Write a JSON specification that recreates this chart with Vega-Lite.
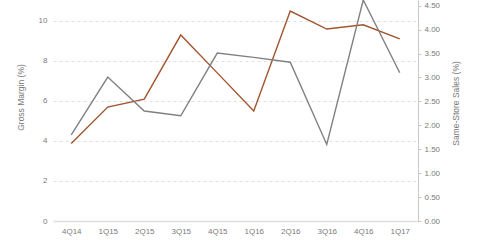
{
  "$schema": "https://vega.github.io/schema/vega-lite/v6.json",
  "width": 365,
  "height": 221,
  "autosize": {"type": "none"},
  "padding": {"left": 53, "top": 0, "right": 62, "bottom": 30},
  "background": "white",
  "config": {
    "view": {"stroke": null},
    "font": "Liberation Sans",
    "axis": {"labelFont": "Liberation Sans", "titleFont": "Liberation Sans", "labelColor": "#7a7a7a", "titleColor": "#7a7a7a", "labelFontSize": 8, "titleFontSize": 8.5, "titleFontWeight": "normal"}
  },
  "data": {
    "values": [
      {"quarter": "4Q14", "gm": 3.87, "sss": 1.80},
      {"quarter": "1Q15", "gm": 5.69, "sss": 3.01},
      {"quarter": "2Q15", "gm": 6.09, "sss": 2.30},
      {"quarter": "3Q15", "gm": 9.29, "sss": 2.20},
      {"quarter": "4Q15", "gm": 7.40, "sss": 3.51},
      {"quarter": "1Q16", "gm": 5.50, "sss": 3.42},
      {"quarter": "2Q16", "gm": 10.49, "sss": 3.32},
      {"quarter": "3Q16", "gm": 9.59, "sss": 1.60},
      {"quarter": "4Q16", "gm": 9.80, "sss": 4.62},
      {"quarter": "1Q17", "gm": 9.10, "sss": 3.10}
    ]
  },
  "encoding": {
    "x": {
      "field": "quarter", "type": "ordinal", "sort": null,
      "scale": {"type": "point", "padding": 0.5},
      "axis": {"title": null, "labelAngle": 0, "domainColor": "#e0e0e0", "domainWidth": 1.5, "ticks": false, "labelPadding": 6}
    }
  },
  "layer": [
    {
      "mark": {"type": "line", "color": "#A0552F", "strokeWidth": 1.4, "clip": false},
      "encoding": {
        "y": {
          "field": "gm", "type": "quantitative",
          "scale": {"domain": [0, 11.04], "nice": false, "zero": true},
          "axis": {
            "orient": "left", "values": [0, 2, 4, 6, 8, 10], "title": "Gross Margin (%)",
            "grid": true, "gridColor": "#e0e0e0", "gridDash": [3, 3], "gridWidth": 1,
            "domain": false, "ticks": false, "labelPadding": 6,
            "titleX": -28, "titleY": 97, "titleAnchor": "middle"
          }
        }
      }
    },
    {
      "mark": {"type": "line", "color": "#808080", "strokeWidth": 1.4, "clip": false},
      "encoding": {
        "y": {
          "field": "sss", "type": "quantitative",
          "scale": {"domain": [0, 4.62], "nice": false, "zero": true},
          "axis": {
            "orient": "right", "values": [0, 0.5, 1, 1.5, 2, 2.5, 3, 3.5, 4, 4.5], "format": ".2f",
            "title": "Same-Store Sales (%)", "grid": false,
            "domain": true, "domainColor": "#c8c8c8", "ticks": true, "tickSize": 3, "tickColor": "#c8c8c8",
            "labelPadding": 3, "titleAngle": 270, "titleX": 42, "titleY": 103
          }
        }
      }
    }
  ],
  "resolve": {"scale": {"y": "independent"}}
}
